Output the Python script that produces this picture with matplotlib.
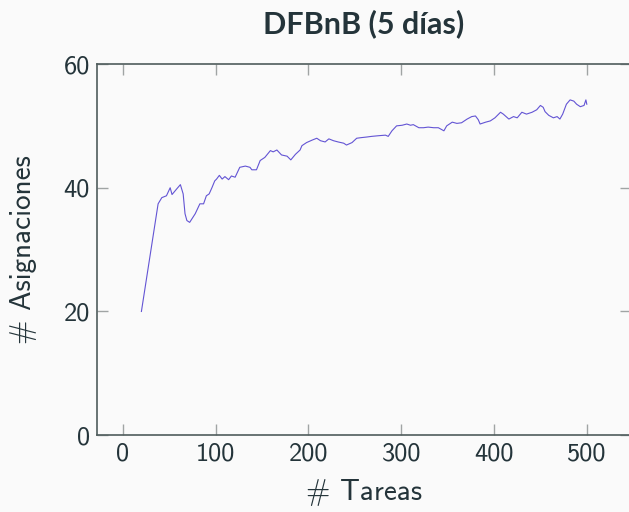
import matplotlib
matplotlib.use("Agg")
import matplotlib.pyplot as plt

# values
tareas = [20, 38, 42, 47, 51, 53, 58, 62, 65, 67, 69, 72, 78, 83, 87, 90, 93, 96, 99,
          101, 104, 107, 110, 114, 117, 121, 126, 132, 137, 139, 144, 148, 153, 159,
          162, 166, 171, 177, 181, 186, 191, 193, 198, 204, 209, 213, 218, 222, 227,
          232, 238, 241, 247, 252, 257, 263, 268, 275, 283, 286, 290, 295, 301, 306,
          310, 313, 319, 324, 329, 335, 340, 346, 349, 355, 360, 365, 371, 376, 380,
          383, 385, 391, 396, 401, 407, 410, 416, 421, 425, 430, 435, 441, 446, 450,
          453, 455, 459, 464, 468, 471, 474, 478, 482, 486, 489, 493, 497, 499, 500]
asignaciones = [20.0, 37.4, 38.4, 38.7, 40.0, 38.9, 39.8, 40.5, 39.0, 35.8, 34.7, 34.4,
                35.8, 37.4, 37.4, 38.7, 39.0, 40.0, 41.1,
                41.4, 42.0, 41.4, 41.8, 41.3, 41.9, 41.7, 43.3, 43.5, 43.3, 42.9, 42.9,
                44.4, 44.9, 46.0, 45.8, 46.1, 45.3, 45.1, 44.5, 45.4, 46.1, 46.8, 47.3,
                47.7, 48.0, 47.6, 47.4, 47.9, 47.6, 47.4, 47.2, 46.9, 47.3, 48.0, 48.1,
                48.2, 48.3, 48.4, 48.5, 48.3, 49.2, 50.0, 50.1, 50.3, 50.1, 50.2, 49.7,
                49.7, 49.8, 49.7, 49.7, 49.2, 50.0, 50.6, 50.4, 50.5, 51.1, 51.5, 51.6,
                51.0, 50.3, 50.6, 50.8, 51.3, 52.2, 51.9, 51.1, 51.5, 51.3, 52.2, 51.9,
                52.2, 52.6, 53.3, 53.0, 52.3, 51.7, 51.3, 51.5, 51.1, 51.9, 53.5, 54.2,
                54.0, 53.5, 53.1, 53.3, 54.2, 53.5]
xticks = [0, 100, 200, 300, 400, 500]
yticks = [0, 20, 40, 60]

TEXT = '#24343a'
SPINE = '#4f5c5c'
TICK = '#a0a4a4'

plt.rcParams['font.family'] = ['cmss10', 'DejaVu Sans']
plt.rcParams['axes.unicode_minus'] = False

fig = plt.figure(figsize=(6.29, 5.12), dpi=100, facecolor='#fafafa')
ax = fig.add_axes([0.154, 0.150, 0.849, 0.725])
ax.set_facecolor('#fafafa')

ax.plot(tareas, asignaciones, color='#6354d4', lw=0.8)

ax.set_xlim(-28, 547.5)
ax.set_ylim(0, 60)
ax.set_xticks(xticks)
ax.set_yticks(yticks)
ax.tick_params(direction='in', length=8, width=1, color=TICK, labelcolor=TEXT,
               labelsize=19, top=True, right=True, pad=5)
for s in ax.spines.values():
    s.set_color(SPINE)
    s.set_linewidth(1.2)

ax.set_xlabel('# Tareas', fontsize=21, color=TEXT, labelpad=10)
ax.set_ylabel('# Asignaciones', fontsize=21, color=TEXT, labelpad=19)
ax.set_title('DFBnB (5 días)', fontsize=22, fontweight='bold', color=TEXT,
             family=['Lato', 'DejaVu Sans'], pad=22)

fig.savefig('out.png', dpi=100, facecolor=fig.get_facecolor())
